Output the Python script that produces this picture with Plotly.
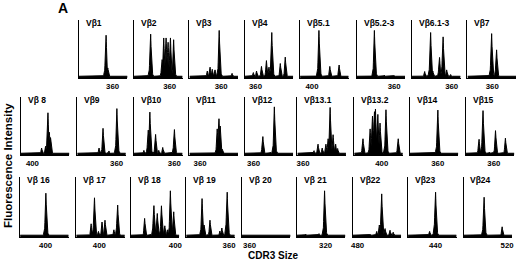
import numpy as np
import plotly.graph_objects as go

W, H = 520, 264

# ---- data -------------------------------------------------------------
labels = ["Vβ1", "Vβ2", "Vβ3", "Vβ4", "Vβ5.1", "Vβ5.2-3", "Vβ6.1-3", "Vβ7",
          "Vβ 8", "Vβ9", "Vβ10", "Vβ11", "Vβ12", "Vβ13.1", "Vβ13.2", "Vβ14", "Vβ15",
          "Vβ 16", "Vβ 17", "Vβ 18", "Vβ 19", "Vβ 20", "Vβ 21", "Vβ22", "Vβ23", "Vβ24"]

tick_text = ["360", "360", "360", "360", "400", "360", "360", "360",
             "400", "360", "360", "360", "360", "360", "400", "360", "360",
             "400", "400", "400", "360", "360", "320", "480", "440", "520"]
tick_pos = [34, 36, 32, 11, 12, 38, 40, 25,
            11.7, 39.7, 40.7, 10.7, 9, 5.7, 27.7, 28.3, 28.3,
            25.7, 23.3, 45, 43.3, 7.7, 29, 5, 27.7, 44]

peak_pos = [
    [27.3, 29, 35],
    [16.7, 28.3, 30, 32.3, 34.3, 36.7, 40],
    [18, 20.7, 23, 25.7, 30, 43],
    [8.7, 12, 17, 22, 24.5, 27.3, 36, 41],
    [19, 30, 39.3],
    [18, 28, 37.7],
    [12.7, 18.7, 21, 27.7, 31.3, 35, 39],
    [24.3, 29.3],
    [21, 25, 27.3, 28.7, 30],
    [22, 26, 32, 40],
    [10, 14.3, 16, 21.7, 25, 29, 40.7],
    [28, 29.7, 31, 33],
    [18.3, 26, 30],
    [16.7, 20.7, 25, 28.7, 31, 33, 36, 38.5, 40.5],
    [8.7, 16, 18.3, 20.3, 21.3, 23.7, 26, 32, 44.3],
    [28.3, 37],
    [13.3, 17.3, 24, 30, 40],
    [26],
    [15, 18.3, 22.3, 26, 29, 38, 41.7],
    [14, 20, 23.3, 26.7, 31, 34.3, 37, 40, 43.3],
    [16, 18, 24, 34, 36, 41.3],
    [],
    [9, 22.3, 28, 40],
    [17.7, 24.3, 27, 29.3, 32.7, 37.7, 41],
    [12, 21.7, 27.7],
    [20.7, 39],
]
peak_height = [
    [0.79, 0.2, 0.03],
    [0.81, 0.34, 0.69, 0.74, 0.66, 0.74, 0.66],
    [0.12, 0.2, 0.15, 0.15, 0.82, 0.08],
    [0.1, 0.12, 0.2, 0.3, 0.2, 0.84, 0.25, 0.36],
    [0.82, 0.2, 0.24],
    [0.82, 0.05, 0.05],
    [0.12, 0.84, 0.12, 0.38, 0.76, 0.14, 0.06],
    [0.82, 0.52],
    [0.12, 0.15, 0.78, 0.42, 0.3],
    [0.12, 0.46, 0.07, 0.8],
    [0.08, 0.46, 0.74, 0.38, 0.08, 0.13, 0.47],
    [0.45, 0.67, 0.5, 0.1],
    [0.34, 0.05, 0.83],
    [0.08, 0.2, 0.12, 0.2, 0.28, 0.82, 0.35, 0.2, 0.12],
    [0.3, 0.45, 0.72, 0.8, 0.85, 0.75, 0.55, 0.78, 0.3],
    [0.83, 0.03],
    [0.29, 0.82, 0.05, 0.42, 0.29],
    [0.73],
    [0.22, 0.7, 0.1, 0.25, 0.28, 0.12, 0.57],
    [0.31, 0.05, 0.56, 0.42, 0.52, 0.2, 0.12, 0.77, 0.45],
    [0.64, 0.2, 0.28, 0.1, 0.15, 0.8],
    [],
    [0.05, 0.06, 0.77, 0.03],
    [0.05, 0.1, 0.2, 0.77, 0.15, 0.12, 0.08],
    [0.03, 0.1, 0.8],
    [0.71, 0.17],
]

# ---- layout of panels (pixel positions) -------------------------------
row_lefts = [
    [77.7, 133.3, 189.3, 245, 301, 358, 414, 470],
    [19, 76, 133.3, 189.3, 245, 298.3, 355.7, 411.7, 468.3],
    [18.3, 75, 130, 186, 242.3, 297.7, 354, 410, 466],
]
row_tb = [(20, 78), (97, 155), (177, 237)]
PW = 49
FONT = "Liberation Sans, Arial"

fig = go.Figure()
layout = dict(width=W, height=H, margin=dict(l=0, r=0, t=0, b=0), autosize=False,
              paper_bgcolor="white", plot_bgcolor="white", showlegend=False)
annotations = []

grid = np.arange(0, PW + 0.001, 0.2)
idx = 0
for r, lefts in enumerate(row_lefts):
    top, bot = row_tb[r]
    for left in lefts:
        n = idx + 1
        xa = "xaxis" if n == 1 else f"xaxis{n}"
        ya = "yaxis" if n == 1 else f"yaxis{n}"
        xr = "x" if n == 1 else f"x{n}"
        yr = "y" if n == 1 else f"y{n}"
        ys = np.full_like(grid, 0.03)
        for p, h in zip(peak_pos[idx], peak_height[idx]):
            spike = h * np.clip(1 - np.abs(grid - p) / 1.5, 0, None)
            skirt = 0.3 * h * np.clip(1 - np.abs(grid - p) / 3.0, 0, None)
            ys = np.maximum(ys, np.maximum(spike, skirt))
        fig.add_trace(go.Scatter(x=grid, y=ys, mode="lines", fill="tozeroy",
                                 fillcolor="black", line=dict(color="black", width=1),
                                 xaxis=xr, yaxis=yr, hoverinfo="skip"))
        layout[xa] = dict(domain=[left / W, (left + PW) / W], range=[0, PW],
                          anchor=yr, showgrid=False, zeroline=False, showline=True,
                          linecolor="black", linewidth=1.3, ticks="",
                          tickvals=[tick_pos[idx]], ticktext=[tick_text[idx]],
                          tickfont=dict(family=FONT, size=7.8, color="black", weight="bold"))
        layout[ya] = dict(domain=[1 - bot / H, 1 - top / H], range=[0, 1],
                          anchor=xr, showgrid=False, zeroline=False, showline=True,
                          linecolor="black", linewidth=1.3, showticklabels=False, ticks="")
        annotations.append(dict(text=labels[idx], xref="paper", yref="paper",
                                x=(left + 5) / W, y=1 - (top + 3) / H,
                                xanchor="left", yanchor="middle", showarrow=False,
                                font=dict(family=FONT, size=8.5, color="black", weight="bold")))
        idx += 1

annotations.append(dict(text="A", xref="paper", yref="paper", x=62 / W, y=1 - 8 / H,
                        xanchor="center", yanchor="middle", showarrow=False,
                        font=dict(family=FONT, size=14, color="black", weight="bold")))
annotations.append(dict(text="Fluorescence Intensity", xref="paper", yref="paper",
                        x=6 / W, y=1 - 165 / H, xanchor="center", yanchor="middle",
                        textangle=-90, showarrow=False,
                        font=dict(family=FONT, size=11.5, color="black", weight="bold")))
annotations.append(dict(text="CDR3 Size", xref="paper", yref="paper",
                        x=274 / W, y=1 - 255 / H, xanchor="center", yanchor="middle",
                        showarrow=False,
                        font=dict(family=FONT, size=10, color="black", weight="bold")))
layout["annotations"] = annotations
fig.update_layout(**layout)
fig.write_html("out.html", config={"displayModeBar": False},
               post_script="document.body.style.margin='0px';")
